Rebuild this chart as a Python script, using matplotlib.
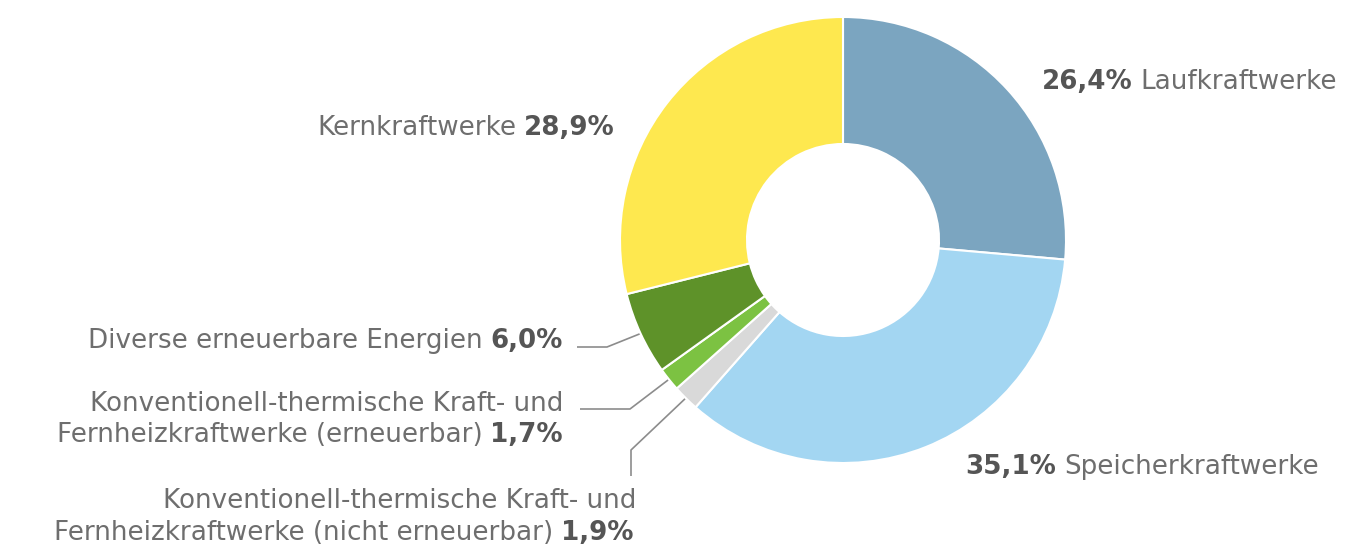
import numpy as np
import matplotlib.pyplot as plt

# Stromproduktion nach Kraftwerkstyp (Anteile in %)
labels = [
    "Laufkraftwerke",
    "Speicherkraftwerke",
    "Konventionell-thermische Kraft- und\nFernheizkraftwerke (nicht erneuerbar)",
    "Konventionell-thermische Kraft- und\nFernheizkraftwerke (erneuerbar)",
    "Diverse erneuerbare Energien",
    "Kernkraftwerke",
]
shares = [26.4, 35.1, 1.9, 1.7, 6.0, 28.9]
pct_text = ["26,4%", "35,1%", "1,9%", "1,7%", "6,0%", "28,9%"]
colors = ["#7ba5c0", "#a3d6f2", "#d9d9d9", "#7cc242", "#5e9229", "#fee84f"]

W, H = 1357, 554
CX, CY, R, RING = 843, 240, 223, 127   # image pixel coords

LABEL_C = "#6e6e6e"
PCT_C = "#555555"
FONT = "DejaVu Sans"
FS = 18.8

fig = plt.figure(figsize=(W / 100, H / 100), dpi=100)
ax = fig.add_axes([0, 0, 1, 1])


def fy(y):
    return H - y


wedges, _ = ax.pie(
    shares, colors=colors, startangle=90, counterclock=False,
    center=(CX, fy(CY)), radius=R, frame=True,
    wedgeprops=dict(width=RING, edgecolor="white", linewidth=1.5),
)
ax.set_xlim(0, W)
ax.set_ylim(0, H)
ax.axis("off")

renderer = fig.canvas.get_renderer()
inv = ax.transData.inverted()


def width_of(t):
    bb = t.get_window_extent(renderer)
    return inv.transform((bb.x1, 0))[0] - inv.transform((bb.x0, 0))[0]


def two_part(x, y, first, second, ha, bold_first):
    # draws "first second" with one part bold, anchored left or right at x
    kw = dict(fontsize=FS, family=FONT, va="baseline")
    gap = 8
    w1 = "bold" if bold_first else "normal"
    w2 = "normal" if bold_first else "bold"
    c1 = PCT_C if bold_first else LABEL_C
    c2 = LABEL_C if bold_first else PCT_C
    if ha == "left":
        t1 = ax.text(x, fy(y), first, ha="left", weight=w1, color=c1, **kw)
        ax.text(x + width_of(t1) + gap, fy(y), second, ha="left", weight=w2, color=c2, **kw)
    else:
        t2 = ax.text(x, fy(y), second, ha="right", weight=w2, color=c2, **kw)
        ax.text(x - width_of(t2) - gap, fy(y), first, ha="right", weight=w1, color=c1, **kw)


# right side labels (y = baseline)
two_part(1042, 89, pct_text[0], labels[0], "left", True)
two_part(965, 474, pct_text[1], labels[1], "left", True)
# Kernkraftwerke
two_part(615, 135, labels[5], pct_text[5], "right", False)
# Diverse
two_part(563, 348, labels[4], pct_text[4], "right", False)
# Konventionell erneuerbar
l1, l2 = labels[3].split("\n")
ax.text(563, fy(411), l1, ha="right", va="baseline", fontsize=FS, family=FONT, color=LABEL_C)
two_part(563, 442, l2, pct_text[3], "right", False)
# Konventionell nicht erneuerbar
l1, l2 = labels[2].split("\n")
ax.text(636, fy(508), l1, ha="right", va="baseline", fontsize=FS, family=FONT, color=LABEL_C)
two_part(634, 540, l2, pct_text[2], "right", False)

# leader lines from wedge middle on outer edge
elbows = {
    4: [(607, 347), (577, 347)],
    3: [(630, 409), (580, 409)],
    2: [(631, 450), (631, 476)],
}
for i, pts in elbows.items():
    w = wedges[i]
    ang = np.deg2rad((w.theta1 + w.theta2) / 2)
    sx = CX + (R - 3) * np.cos(ang)
    sy = fy(CY) + (R - 3) * np.sin(ang)
    xs = [sx] + [p[0] for p in pts]
    ys = [sy] + [fy(p[1]) for p in pts]
    ax.plot(xs, ys, color="#8c8c8c", lw=1.2, solid_capstyle="butt", zorder=0.5)

fig.savefig("out.png", dpi=100, facecolor="white")
